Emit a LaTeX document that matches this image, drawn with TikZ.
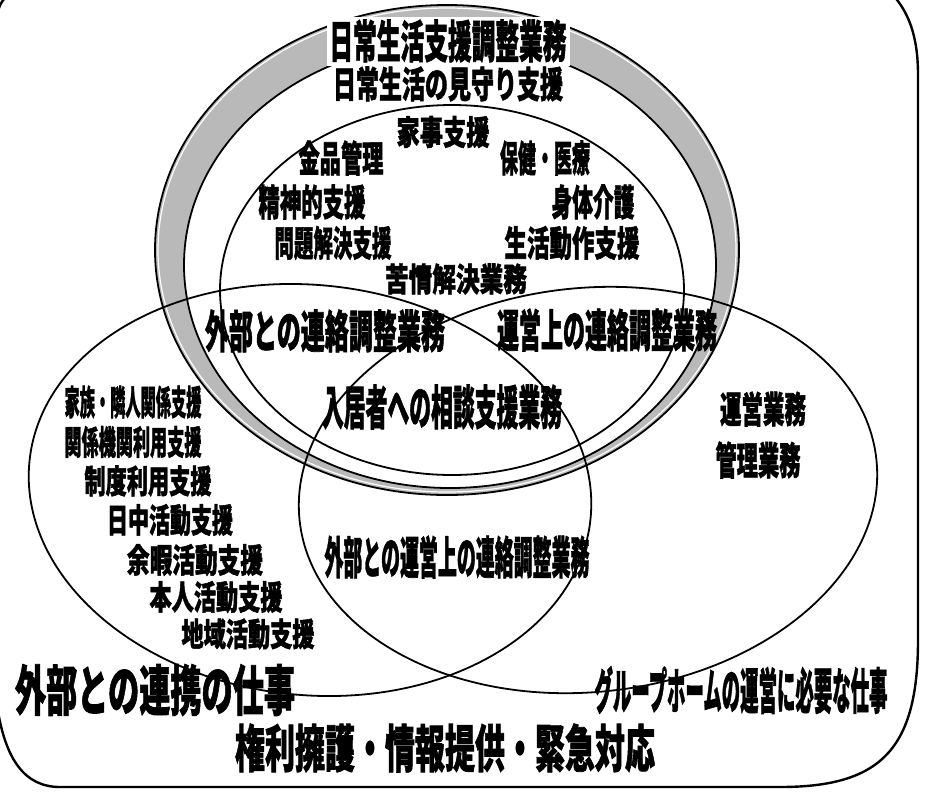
\documentclass[tikz,border=0pt]{standalone}
\usepackage{fontspec}
\usepackage{graphicx}
\newfontfamily\jp[BoldFeatures={FakeBold=1.6}]{Noto Sans CJK JP}
\newcommand\tx[3]{\resizebox*{#1pt}{#2pt}{\jp\bfseries #3}}
\begin{document}
\begin{tikzpicture}[x=1pt,y=-1pt,
  lbl/.style={inner sep=0pt,outer sep=0pt},
  venn/.style={draw=black,line width=1.8pt},
  frame/.style={draw=black,line width=2.4pt}]
\useasboundingbox (0,0) rectangle (928,793);
% gray ring
\fill[gray!55,even odd rule] (447,250) ellipse [x radius=292pt,y radius=245pt]
      (450,265) ellipse [x radius=266pt,y radius=223pt];
\draw[white,line width=1.2pt] (447,250) ellipse [x radius=289pt,y radius=242pt];
\draw[venn] (447,250) ellipse [x radius=292pt,y radius=245pt];
\draw[venn] (450,265) ellipse [x radius=266pt,y radius=223pt];
% venn ellipses
\draw[venn] (452,290) ellipse [x radius=232pt,y radius=185pt];
\draw[venn,rotate around={-6:(310,490)}] (310,490) ellipse [x radius=282pt,y radius=205pt];
\draw[venn,rotate around={6:(588,490)}] (588,490) ellipse [x radius=290pt,y radius=202pt];
% frame
\draw[frame] (893,-5) .. controls (908,12) and (918,35) .. (918,75) -- (918,640)
   .. controls (918,750) and (880,787) .. (780,787) -- (60,787)
   .. controls (25,787) and (5,760) .. (-3,705) -- (-3,20)
   .. controls (-3,8) and (2,0) .. (8,-5);
% labels
\node[lbl,fill=white,inner sep=3pt] (t1) at (448,41) {\tx{237}{43}{日常生活支援調整業務}};
\node[lbl] (t2) at (448,84) {\tx{230}{35}{日常生活の見守り支援}};
\node[lbl] (a1) at (443,132) {\tx{93}{32}{家事支援}};
\node[lbl] (a2) at (341,158) {\tx{85}{35}{金品管理}};
\node[lbl] (a3) at (545,158) {\tx{90}{35}{保健・医療}};
\node[lbl] (a4) at (312,202) {\tx{107}{35}{精神的支援}};
\node[lbl] (a5) at (593,202) {\tx{83}{35}{身体介護}};
\node[lbl] (a6) at (333,243) {\tx{117}{34}{問題解決支援}};
\node[lbl] (a7) at (572,243) {\tx{135}{34}{生活動作支援}};
\node[lbl] (a8) at (456,279) {\tx{142}{31}{苦情解決業務}};
\node[lbl] (b1) at (325,331) {\tx{240}{43}{外部との連絡調整業務}};
\node[lbl] (b2) at (607,330) {\tx{220}{43}{運営上の連絡調整業務}};
\node[lbl] (b3) at (442,407) {\tx{240}{45}{入居者への相談支援業務}};
\node[lbl] (c1) at (133,402) {\tx{137}{33}{家族・隣人関係支援}};
\node[lbl] (c2) at (133,442) {\tx{137}{32}{関係機関利用支援}};
\node[lbl] (c3) at (148,481) {\tx{127}{31}{制度利用支援}};
\node[lbl] (c4) at (170,520) {\tx{126}{32}{日中活動支援}};
\node[lbl] (c5) at (195,560) {\tx{136}{32}{余暇活動支援}};
\node[lbl] (c6) at (216,597) {\tx{133}{32}{本人活動支援}};
\node[lbl] (c7) at (248,634) {\tx{133}{31}{地域活動支援}};
\node[lbl] (d1) at (763,409) {\tx{86}{35}{運営業務}};
\node[lbl] (d2) at (758,460) {\tx{85}{37}{管理業務}};
\node[lbl] (e1) at (457,557) {\tx{265}{43}{外部との運営上の連絡調整業務}};
\node[lbl] (f1) at (155,690) {\tx{280}{52}{外部との連携の仕事}};
\node[lbl] (f2) at (741,690) {\tx{293}{48}{グループホームの運営に必要な仕事}};
\node[lbl] (f3) at (445,748) {\tx{420}{49}{権利擁護・情報提供・緊急対応}};
\end{tikzpicture}
\end{document}
